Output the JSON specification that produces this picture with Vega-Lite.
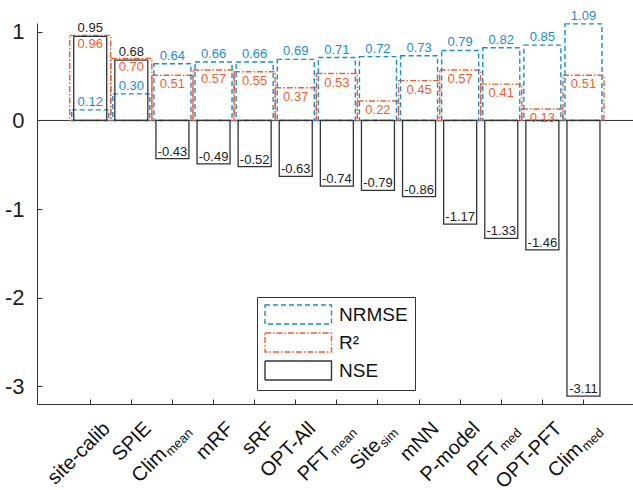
{
  "$schema": "https://vega.github.io/schema/vega-lite/v6.json",
  "width": 596,
  "height": 381,
  "autosize": "none",
  "padding": {"left": 37, "top": 23, "right": 0, "bottom": 86},
  "config": {
    "view": {"stroke": null},
    "font": "Liberation Sans",
    "locale": {"number": {"decimal": ".", "thousands": ",", "grouping": [3], "currency": ["$", ""], "minus": "-"}}
  },
  "datasets": {
    "scores": [
      {"model": "site-calib", "metric": "NRMSE", "value": 0.12},
      {"model": "site-calib", "metric": "R²", "value": 0.96},
      {"model": "site-calib", "metric": "NSE", "value": 0.95},
      {"model": "SPIE", "metric": "NRMSE", "value": 0.30},
      {"model": "SPIE", "metric": "R²", "value": 0.70},
      {"model": "SPIE", "metric": "NSE", "value": 0.68},
      {"model": "Clim_mean", "metric": "NRMSE", "value": 0.64},
      {"model": "Clim_mean", "metric": "R²", "value": 0.51},
      {"model": "Clim_mean", "metric": "NSE", "value": -0.43},
      {"model": "mRF", "metric": "NRMSE", "value": 0.66},
      {"model": "mRF", "metric": "R²", "value": 0.57},
      {"model": "mRF", "metric": "NSE", "value": -0.49},
      {"model": "sRF", "metric": "NRMSE", "value": 0.66},
      {"model": "sRF", "metric": "R²", "value": 0.55},
      {"model": "sRF", "metric": "NSE", "value": -0.52},
      {"model": "OPT-All", "metric": "NRMSE", "value": 0.69},
      {"model": "OPT-All", "metric": "R²", "value": 0.37},
      {"model": "OPT-All", "metric": "NSE", "value": -0.63},
      {"model": "PFT_mean", "metric": "NRMSE", "value": 0.71},
      {"model": "PFT_mean", "metric": "R²", "value": 0.53},
      {"model": "PFT_mean", "metric": "NSE", "value": -0.74},
      {"model": "Site_sim", "metric": "NRMSE", "value": 0.72},
      {"model": "Site_sim", "metric": "R²", "value": 0.22},
      {"model": "Site_sim", "metric": "NSE", "value": -0.79},
      {"model": "mNN", "metric": "NRMSE", "value": 0.73},
      {"model": "mNN", "metric": "R²", "value": 0.45},
      {"model": "mNN", "metric": "NSE", "value": -0.86},
      {"model": "P-model", "metric": "NRMSE", "value": 0.79},
      {"model": "P-model", "metric": "R²", "value": 0.57},
      {"model": "P-model", "metric": "NSE", "value": -1.17},
      {"model": "PFT_med", "metric": "NRMSE", "value": 0.82},
      {"model": "PFT_med", "metric": "R²", "value": 0.41},
      {"model": "PFT_med", "metric": "NSE", "value": -1.33},
      {"model": "OPT-PFT", "metric": "NRMSE", "value": 0.85},
      {"model": "OPT-PFT", "metric": "R²", "value": 0.13},
      {"model": "OPT-PFT", "metric": "NSE", "value": -1.46},
      {"model": "Clim_med", "metric": "NRMSE", "value": 1.09},
      {"model": "Clim_med", "metric": "R²", "value": 0.51},
      {"model": "Clim_med", "metric": "NSE", "value": -3.11}
    ],
    "models": [
      {"model": "site-calib", "main": "site-calib", "sub": ""},
      {"model": "SPIE", "main": "SPIE", "sub": ""},
      {"model": "Clim_mean", "main": "Clim", "sub": "mean"},
      {"model": "mRF", "main": "mRF", "sub": ""},
      {"model": "sRF", "main": "sRF", "sub": ""},
      {"model": "OPT-All", "main": "OPT-All", "sub": ""},
      {"model": "PFT_mean", "main": "PFT", "sub": "mean"},
      {"model": "Site_sim", "main": "Site", "sub": "sim"},
      {"model": "mNN", "main": "mNN", "sub": ""},
      {"model": "P-model", "main": "P-model", "sub": ""},
      {"model": "PFT_med", "main": "PFT", "sub": "med"},
      {"model": "OPT-PFT", "main": "OPT-PFT", "sub": ""},
      {"model": "Clim_med", "main": "Clim", "sub": "med"}
    ]
  },
  "layer": [
    {
      "data": {"values": [{}]},
      "mark": {"type": "rule", "color": "#333333", "strokeWidth": 1},
      "encoding": {"y": {"datum": 0, "type": "quantitative"}}
    },
    {
      "data": {"name": "scores"},
      "transform": [{"filter": "datum.metric == 'R²'"}],
      "mark": {"type": "bar", "filled": false, "strokeWidth": 1.4, "size": 41},
      "encoding": {
        "x": {
          "field": "model", "type": "nominal", "sort": null,
          "scale": {"domain": ["site-calib", "SPIE", "Clim_mean", "mRF", "sRF", "OPT-All", "PFT_mean", "Site_sim", "mNN", "P-model", "PFT_med", "OPT-PFT", "Clim_med"], "paddingInner": 0, "paddingOuter": 0.75, "align": 0.53},
          "axis": {"title": null, "labels": false, "tickSize": -5, "tickColor": "#333333", "domainColor": "#333333", "grid": false}
        },
        "y": {
          "field": "value", "type": "quantitative",
          "scale": {"domain": [-3.2, 1.1], "nice": false, "zero": false},
          "axis": {"title": null, "values": [-3, -2, -1, 0, 1], "labelExpr": "toString(datum.value)", "labelFontSize": 22, "labelColor": "#222222", "labelPadding": 18, "tickSize": -5, "tickColor": "#333333", "domainColor": "#333333", "grid": false}
        },
        "y2": {"datum": 0},
        "stroke": {
          "field": "metric", "type": "nominal",
          "scale": {"domain": ["NRMSE", "R²", "NSE"], "range": ["#1b8bd3", "#ef5f2f", "#333333"]},
          "legend": {"title": null, "orient": "none", "legendX": 220, "legendY": 274, "strokeColor": "#333333", "padding": 7, "symbolType": "M-1,-1H6V1H-1Z", "symbolSize": 361, "symbolStrokeWidth": 1.4, "symbolFillColor": "transparent", "labelFontSize": 19, "labelColor": "#111111", "labelOffset": 54, "rowPadding": 3, "fillColor": "white"}
        },
        "strokeDash": {
          "field": "metric", "type": "nominal",
          "scale": {"domain": ["NRMSE", "R²", "NSE"], "range": [[5, 3], [6, 2, 1.5, 2], [1, 0]]},
          "legend": {"title": null, "orient": "none", "legendX": 220, "legendY": 274, "strokeColor": "#333333", "padding": 7, "symbolType": "M-1,-1H6V1H-1Z", "symbolSize": 361, "symbolStrokeWidth": 1.4, "symbolFillColor": "transparent", "labelFontSize": 19, "labelColor": "#111111", "labelOffset": 54, "rowPadding": 3, "fillColor": "white"}
        }
      }
    },
    {
      "data": {"name": "scores"},
      "transform": [{"filter": "datum.metric == 'NRMSE'"}],
      "mark": {"type": "bar", "filled": false, "strokeWidth": 1.4, "size": 37},
      "encoding": {
        "x": {"field": "model", "type": "nominal", "sort": null},
        "y": {"field": "value", "type": "quantitative"},
        "y2": {"datum": 0},
        "stroke": {"field": "metric", "type": "nominal"},
        "strokeDash": {"field": "metric", "type": "nominal"}
      }
    },
    {
      "data": {"name": "scores"},
      "transform": [{"filter": "datum.metric == 'NSE'"}],
      "mark": {"type": "bar", "filled": false, "strokeWidth": 1.3, "size": 33},
      "encoding": {
        "x": {"field": "model", "type": "nominal", "sort": null},
        "y": {"field": "value", "type": "quantitative"},
        "y2": {"datum": 0},
        "stroke": {"field": "metric", "type": "nominal"},
        "strokeDash": {"field": "metric", "type": "nominal"}
      }
    },
    {
      "data": {"name": "scores"},
      "transform": [{"filter": "datum.metric == 'NRMSE'"}],
      "mark": {"type": "text", "baseline": "bottom", "dy": -1, "fontSize": 13, "color": "#1b8bd3"},
      "encoding": {
        "x": {"field": "model", "type": "nominal", "sort": null},
        "y": {"field": "value", "type": "quantitative"},
        "text": {"field": "value", "type": "quantitative", "format": ".2f"}
      }
    },
    {
      "data": {"name": "scores"},
      "transform": [{"filter": "datum.metric == 'R²'"}],
      "mark": {"type": "text", "baseline": "top", "dy": 3, "fontSize": 13, "color": "#ef5f2f"},
      "encoding": {
        "x": {"field": "model", "type": "nominal", "sort": null},
        "y": {"field": "value", "type": "quantitative"},
        "text": {"field": "value", "type": "quantitative", "format": ".2f"}
      }
    },
    {
      "data": {"name": "scores"},
      "transform": [{"filter": "datum.metric == 'NSE' && datum.value > 0"}],
      "mark": {"type": "text", "baseline": "bottom", "dy": -1, "fontSize": 13, "color": "#222222"},
      "encoding": {
        "x": {"field": "model", "type": "nominal", "sort": null},
        "y": {"field": "value", "type": "quantitative"},
        "text": {"field": "value", "type": "quantitative", "format": ".2f"}
      }
    },
    {
      "data": {"name": "scores"},
      "transform": [{"filter": "datum.metric == 'NSE' && datum.value < 0"}],
      "mark": {"type": "text", "baseline": "alphabetic", "dy": -3, "fontSize": 13, "color": "#222222"},
      "encoding": {
        "x": {"field": "model", "type": "nominal", "sort": null},
        "y": {"field": "value", "type": "quantitative"},
        "text": {"field": "value", "type": "quantitative", "format": ".2f"}
      }
    },
    {
      "data": {"name": "models"},
      "transform": [{"filter": "datum.sub == ''"}],
      "mark": {"type": "text", "align": "right", "baseline": "alphabetic", "dx": -3.5, "dy": 33, "fontSize": 20, "color": "#111111"},
      "encoding": {
        "x": {"field": "model", "type": "nominal", "sort": null},
        "y": {"datum": -3.2, "type": "quantitative"},
        "angle": {"value": 315},
        "text": {"field": "main", "type": "nominal"}
      }
    },
    {
      "data": {"name": "models"},
      "transform": [{"filter": "datum.sub == 'mean'"}],
      "mark": {"type": "text", "align": "right", "baseline": "alphabetic", "dx": -39.5, "dy": 33, "fontSize": 20, "color": "#111111"},
      "encoding": {
        "x": {"field": "model", "type": "nominal", "sort": null},
        "y": {"datum": -3.2, "type": "quantitative"},
        "angle": {"value": 315},
        "text": {"field": "main", "type": "nominal"}
      }
    },
    {
      "data": {"name": "models"},
      "transform": [{"filter": "datum.sub == 'med'"}],
      "mark": {"type": "text", "align": "right", "baseline": "alphabetic", "dx": -32.3, "dy": 33, "fontSize": 20, "color": "#111111"},
      "encoding": {
        "x": {"field": "model", "type": "nominal", "sort": null},
        "y": {"datum": -3.2, "type": "quantitative"},
        "angle": {"value": 315},
        "text": {"field": "main", "type": "nominal"}
      }
    },
    {
      "data": {"name": "models"},
      "transform": [{"filter": "datum.sub == 'sim'"}],
      "mark": {"type": "text", "align": "right", "baseline": "alphabetic", "dx": -27.2, "dy": 33, "fontSize": 20, "color": "#111111"},
      "encoding": {
        "x": {"field": "model", "type": "nominal", "sort": null},
        "y": {"datum": -3.2, "type": "quantitative"},
        "angle": {"value": 315},
        "text": {"field": "main", "type": "nominal"}
      }
    },
    {
      "data": {"name": "models"},
      "transform": [{"filter": "datum.sub != ''"}],
      "mark": {"type": "text", "align": "right", "baseline": "alphabetic", "dx": -6, "dy": 36, "fontSize": 13, "color": "#111111"},
      "encoding": {
        "x": {"field": "model", "type": "nominal", "sort": null},
        "y": {"datum": -3.2, "type": "quantitative"},
        "angle": {"value": 315},
        "text": {"field": "sub", "type": "nominal"}
      }
    }
  ]
}
